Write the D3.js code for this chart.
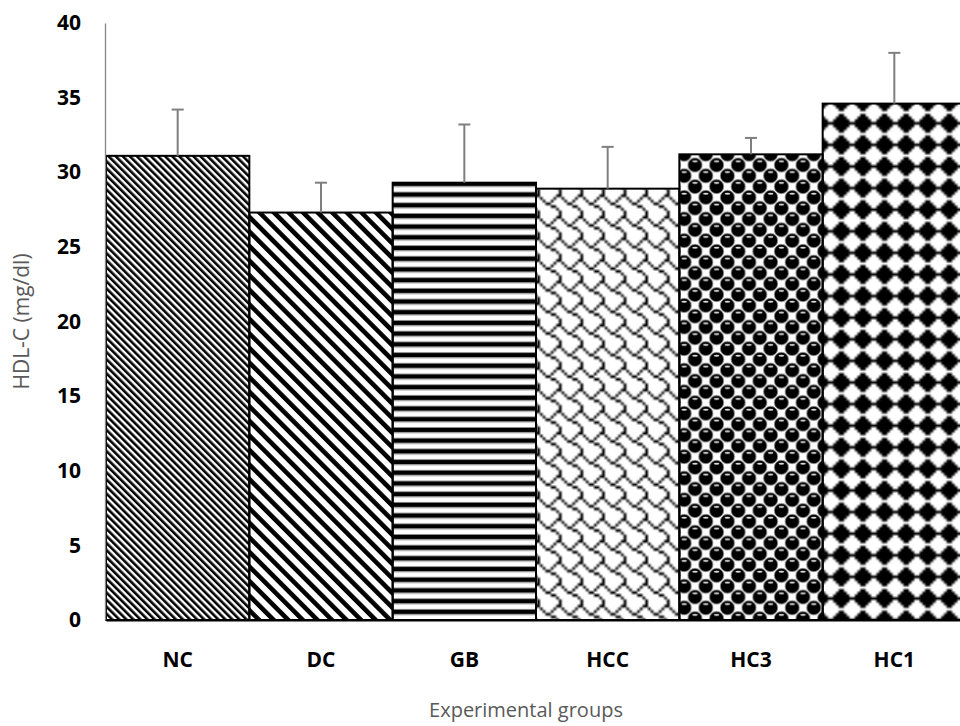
<!DOCTYPE html>
<html>
<head>
<meta charset="utf-8">
<script src="https://cdn.jsdelivr.net/npm/d3@7"></script>
<style>
  html, body { margin: 0; padding: 0; background: #fff; }
  svg { display: block; }
</style>
</head>
<body>
<svg id="chart" width="960" height="726"></svg>
<script>
// HDL-C by experimental group (mean and upward SD)
const groups = ["NC", "DC", "GB", "HCC", "HC3", "HC1"];
const hdlMean = [31.1, 27.3, 29.3, 28.9, 31.2, 34.6];
const hdlSD = [3.1, 2.0, 3.9, 2.8, 1.1, 3.4];
const yTicks = [0, 5, 10, 15, 20, 25, 30, 35, 40];
const fillPatterns = ["pNC", "pDC", "pGB", "pHCC", "pHC3", "pHC1"];

const svg = d3.select("#chart");
const plot = { left: 106, right: 966, top: 23, bottom: 620 };

const x = d3.scaleBand().domain(groups).range([plot.left, plot.right]).padding(0);
const y = d3.scaleLinear().domain([0, 40]).range([plot.bottom, plot.top]);

// ---- pattern fills ----
const defs = svg.append("defs");

defs.append("filter").attr("id", "soft")
  .append("feGaussianBlur").attr("stdDeviation", 0.45);

// 8x8 one-bit hatch tiles, upscaled smoothly (3x3 copies so edges wrap cleanly)
function bitmapPattern(id, rows, scale, ox, oy) {
  const n = 8;
  const cv = document.createElement("canvas");
  cv.width = 3 * n; cv.height = 3 * n;
  const ctx = cv.getContext("2d");
  ctx.fillStyle = "#fff";
  ctx.fillRect(0, 0, 3 * n, 3 * n);
  ctx.fillStyle = "#000";
  for (let ty = 0; ty < 3; ty++)
    for (let tx = 0; tx < 3; tx++)
      for (let r = 0; r < n; r++)
        for (let c = 0; c < n; c++)
          if ((rows[r] >> (7 - c)) & 1) ctx.fillRect(tx * n + c, ty * n + r, 1, 1);
  const T = n * scale;
  const p = defs.append("pattern").attr("id", id).attr("patternUnits", "userSpaceOnUse")
    .attr("x", ox).attr("y", oy).attr("width", T).attr("height", T);
  p.append("image")
    .attr("x", -T).attr("y", -T).attr("width", 3 * T).attr("height", 3 * T)
    .attr("preserveAspectRatio", "none")
    .attr("href", cv.toDataURL());
}

// fine diagonal stripes
const pNC = defs.append("pattern").attr("id", "pNC").attr("patternUnits", "userSpaceOnUse")
  .attr("width", 5).attr("height", 5).attr("patternTransform", "rotate(-45)");
pNC.append("rect").attr("width", 5).attr("height", 5).attr("fill", "#fff");
pNC.append("rect").attr("width", 2.6).attr("height", 5).attr("fill", "#000");

// wide diagonal stripes
const pDC = defs.append("pattern").attr("id", "pDC").attr("patternUnits", "userSpaceOnUse")
  .attr("width", 10.3).attr("height", 10.3).attr("patternTransform", "rotate(-45)");
pDC.append("rect").attr("width", 10.3).attr("height", 10.3).attr("fill", "#fff");
pDC.append("rect").attr("width", 4.6).attr("height", 10.3).attr("fill", "#000");

// horizontal stripes
const pGB = defs.append("pattern").attr("id", "pGB").attr("patternUnits", "userSpaceOnUse")
  .attr("width", 20).attr("height", 10.7);
pGB.append("rect").attr("width", 20).attr("height", 10.7).attr("fill", "#fff");
pGB.append("rect").attr("y", 0).attr("width", 20).attr("height", 4.2).attr("fill", "#000");
pGB.append("rect").attr("y", 4.2).attr("width", 20).attr("height", 1.0).attr("fill", "#888");
pGB.append("rect").attr("y", 9.7).attr("width", 20).attr("height", 1.0).attr("fill", "#888");

// shingle
bitmapPattern("pHCC", [0x03, 0x84, 0x48, 0x30, 0x0c, 0x02, 0x01, 0x01], 2.7, 0, 0);

// shaded spheres on a checker
const c = 10.8;
const pHC3 = defs.append("pattern").attr("id", "pHC3").attr("patternUnits", "userSpaceOnUse")
  .attr("x", -1.6).attr("y", 8.4)
  .attr("width", 2 * c).attr("height", 2 * c);
pHC3.append("rect").attr("width", 2 * c).attr("height", 2 * c).attr("fill", "#fff");
const sphereCenters = [];
[[0.5, 0.5], [1.5, 1.5]].forEach(([a, b]) => {
  for (let i = -1; i <= 1; i++)
    for (let j = -1; j <= 1; j++) sphereCenters.push([(a + 2 * i) * c, (b + 2 * j) * c]);
});
sphereCenters.forEach(([cx, cy]) => {
  pHC3.append("circle").attr("cx", cx).attr("cy", cy).attr("r", 7.1)
    .attr("fill", "#000").attr("stroke", "#8a8a8a").attr("stroke-width", 0.9);
  pHC3.append("ellipse").attr("cx", cx).attr("cy", cy - 3.6).attr("rx", 2.8).attr("ry", 1.0)
    .attr("fill", "#ddd");
});

// solid diamonds
bitmapPattern("pHC1", [0x18, 0x3c, 0x7e, 0xff, 0x7e, 0x3c, 0x18, 0x00], 2.7, 9.75, 5.85);

// ---- bars ----
const data = groups.map((g, i) => ({ g, mean: hdlMean[i], sd: hdlSD[i], fill: fillPatterns[i] }));

svg.append("g").attr("filter", "url(#soft)")
  .selectAll("rect").data(data).join("rect")
  .attr("x", dd => x(dd.g))
  .attr("y", dd => y(dd.mean))
  .attr("width", x.bandwidth())
  .attr("height", dd => y(0) - y(dd.mean))
  .attr("fill", dd => `url(#${dd.fill})`);

svg.append("g").selectAll("rect").data(data).join("rect")
  .attr("x", dd => x(dd.g))
  .attr("y", dd => y(dd.mean))
  .attr("width", x.bandwidth())
  .attr("height", dd => y(0) - y(dd.mean))
  .attr("fill", "none")
  .attr("stroke", "#000")
  .attr("stroke-width", 2);

// ---- error bars (upper only) ----
const eb = svg.append("g").attr("stroke", "#7f7f7f").attr("stroke-width", 2);
eb.selectAll("line.v").data(data).join("line").attr("class", "v")
  .attr("x1", dd => x(dd.g) + x.bandwidth() / 2)
  .attr("x2", dd => x(dd.g) + x.bandwidth() / 2)
  .attr("y1", dd => y(dd.mean))
  .attr("y2", dd => y(dd.mean + dd.sd));
eb.selectAll("line.cap").data(data).join("line").attr("class", "cap")
  .attr("x1", dd => x(dd.g) + x.bandwidth() / 2 - 6)
  .attr("x2", dd => x(dd.g) + x.bandwidth() / 2 + 6)
  .attr("y1", dd => y(dd.mean + dd.sd))
  .attr("y2", dd => y(dd.mean + dd.sd));

// ---- axes ----
const yAxis = d3.axisLeft(y).tickValues(yTicks).tickSize(0).tickPadding(24);
const gy = svg.append("g").attr("transform", `translate(${plot.left - 1},0)`).call(yAxis);
gy.select(".domain").attr("stroke", "#868686").attr("stroke-width", 1.3);
gy.selectAll("text")
  .attr("font-family", "'Open Sans', sans-serif")
  .attr("font-weight", "bold")
  .attr("font-size", 21)
  .attr("fill", "#000");

const xAxis = d3.axisBottom(x).tickSize(0).tickPadding(32);
const gx = svg.append("g").attr("transform", `translate(0,${plot.bottom})`).call(xAxis);
gx.select(".domain").attr("stroke", "#000").attr("stroke-width", 2);
gx.selectAll("text")
  .attr("font-family", "'Open Sans', sans-serif")
  .attr("font-weight", "bold")
  .attr("font-size", 21)
  .attr("fill", "#000");

// ---- axis titles ----
svg.append("text")
  .attr("transform", `translate(29,${(plot.top + plot.bottom) / 2}) rotate(-90)`)
  .attr("text-anchor", "middle")
  .attr("font-family", "'Open Sans', sans-serif")
  .attr("font-size", 21)
  .attr("fill", "#595959")
  .text("HDL-C (mg/dl)");

svg.append("text")
  .attr("x", 526)
  .attr("y", 717)
  .attr("text-anchor", "middle")
  .attr("font-family", "'Open Sans', sans-serif")
  .attr("font-size", 20)
  .attr("fill", "#595959")
  .text("Experimental groups");
</script>
</body>
</html>
